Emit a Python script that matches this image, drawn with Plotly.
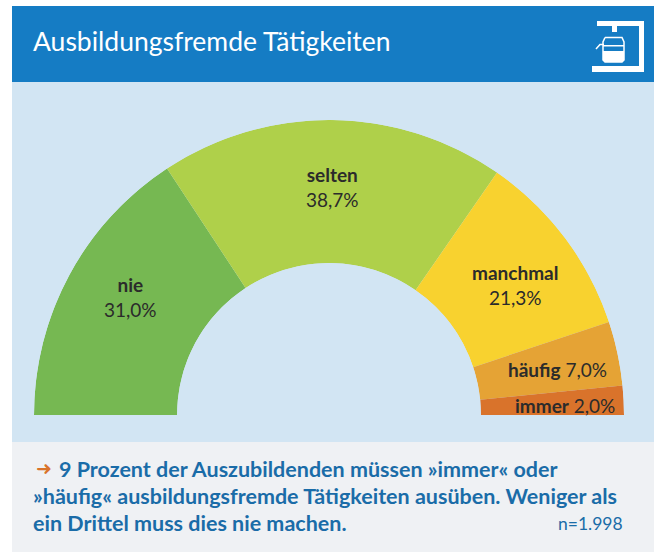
import plotly.graph_objects as go

W, H = 654, 552
categories = ["nie", "selten", "manchmal", "häufig", "immer"]
printed_values = ["31,0%", "38,7%", "21,3%", "7,0%", "2,0%"]
# slice shares as actually drawn in the picture (percent of the half circle)
drawn_shares = [31.5, 37.8, 20.5, 7.0, 3.2]
colors = ["#76b852", "#afd04a", "#f8d22f", "#e5a335", "#d9732b"]

TITLE = "Ausbildungsfremde Tätigkeiten"
NOTE_LINES = ["9 Prozent der Auszubildenden müssen »immer« oder",
              "»häufig« ausbildungsfremde Tätigkeiten ausüben. Weniger als",
              "ein Drittel muss dies nie machen."]
SAMPLE = "n=1.998"
FONT = "Lato, sans-serif"
DARK = "#2b2b2b"
BLUE = "#1a6ca8"

def X(p): return p / W
def Y(p): return 1 - p / H

thetas, widths, start = [], [], 0.0
for s in drawn_shares:
    w = s * 1.8
    thetas.append(start + w / 2)
    widths.append(w)
    start += w

fig = go.Figure(go.Barpolar(r=[1] * len(categories), theta=thetas, width=widths,
                            marker=dict(color=colors, line=dict(width=0)),
                            hoverinfo="skip", showlegend=False))

def rect(x0, y0, x1, y1, fill):
    return dict(type="rect", xref="paper", yref="paper", x0=X(x0), x1=X(x1), y0=Y(y0), y1=Y(y1),
                fillcolor=fill, line_width=0, layer="below")

def path(points, fill="#ffffff", stroke=None, width=0):
    d = "M " + " L ".join(f"{X(a):.5f},{Y(b):.5f}" for a, b in points)
    if fill != "rgba(0,0,0,0)":
        d += " Z"
    return dict(type="path", xref="paper", yref="paper", path=d, fillcolor=fill,
                line=dict(color=stroke or "rgba(0,0,0,0)", width=width), layer="above")

shapes = [rect(12, 6, 654, 82, "#157cc4"), rect(12, 82, 654, 442, "#d2e5f3"),
          rect(12, 442, 654, 552, "#eff1f4")]
# coffee-machine icon
icon = [(597, 21), (644, 21), (644, 72), (592, 72), (592, 66), (639, 66), (639, 26), (597, 26)]
shapes.append(path(icon))
shapes.append(path([(612, 26), (617, 26), (617, 32), (612, 32)]))
shapes.append(path([(605, 37.5), (622, 37.5), (624, 42), (624, 60), (622, 62), (605, 62), (603, 60), (603, 42), (605, 37.5)],
                   fill="rgba(0,0,0,0)", stroke="#ffffff", width=1.5))
shapes.append(path([(603, 51), (624, 51), (624, 60), (622, 62), (605, 62), (603, 60)]))
shapes.append(path([(603, 45), (624, 45), (624, 46.5), (603, 46.5)]))
shapes.append(path([(596, 49), (600, 44.5), (604, 44.5)], fill="rgba(0,0,0,0)", stroke="#ffffff", width=1.5))

def text(x, y, s, size, color=DARK, anchor="center", bold=False, family=FONT):
    return dict(xref="paper", yref="paper", x=X(x), y=Y(y), text=f"<b>{s}</b>" if bold else s,
                showarrow=False, xanchor=anchor, yanchor="middle", align=anchor if anchor != "center" else "center",
                font=dict(size=size, color=color, family=family))

LABEL = 19
ann = [text(31, 41, TITLE, 26.5, "#ffffff", "left")]
ann += [text(332, 187, f"<b>{categories[1]}</b><br>{printed_values[1]}", LABEL),
        text(130, 297, f"<b>{categories[0]}</b><br>{printed_values[0]}", LABEL),
        text(515, 285, f"<b>{categories[2]}</b><br>{printed_values[2]}", LABEL),
        text(609, 369, f"<b>{categories[3]}</b> {printed_values[3]}", LABEL, anchor="right"),
        text(617, 405, f"<b>{categories[4]}</b> {printed_values[4]}", LABEL, anchor="right")]
ann += [text(34, 468, "➜", 19, "#d9732b", "left", True, family="DejaVu Sans"),
        text(57, 469, NOTE_LINES[0], 21.5, BLUE, "left", True),
        text(31, 496, NOTE_LINES[1], 21.5, BLUE, "left", True),
        text(31, 523, NOTE_LINES[2], 21.5, BLUE, "left", True),
        text(625, 523, SAMPLE, 17.5, BLUE, "right")]

fig.update_layout(
    width=W, height=H, margin=dict(l=0, r=0, t=0, b=0), paper_bgcolor="#ffffff",
    shapes=shapes, annotations=ann, showlegend=False,
    polar=dict(domain=dict(x=[X(34), X(624)], y=[Y(415), Y(120)]),
               sector=[0, 180], hole=0.515, bgcolor="rgba(0,0,0,0)",
               radialaxis=dict(visible=False, range=[0, 1]),
               angularaxis=dict(visible=False, direction="clockwise", rotation=180)),
)
fig.write_html("out.html", config=dict(displayModeBar=False),
               post_script="document.body.style.margin='0';document.body.style.overflow='hidden';")
